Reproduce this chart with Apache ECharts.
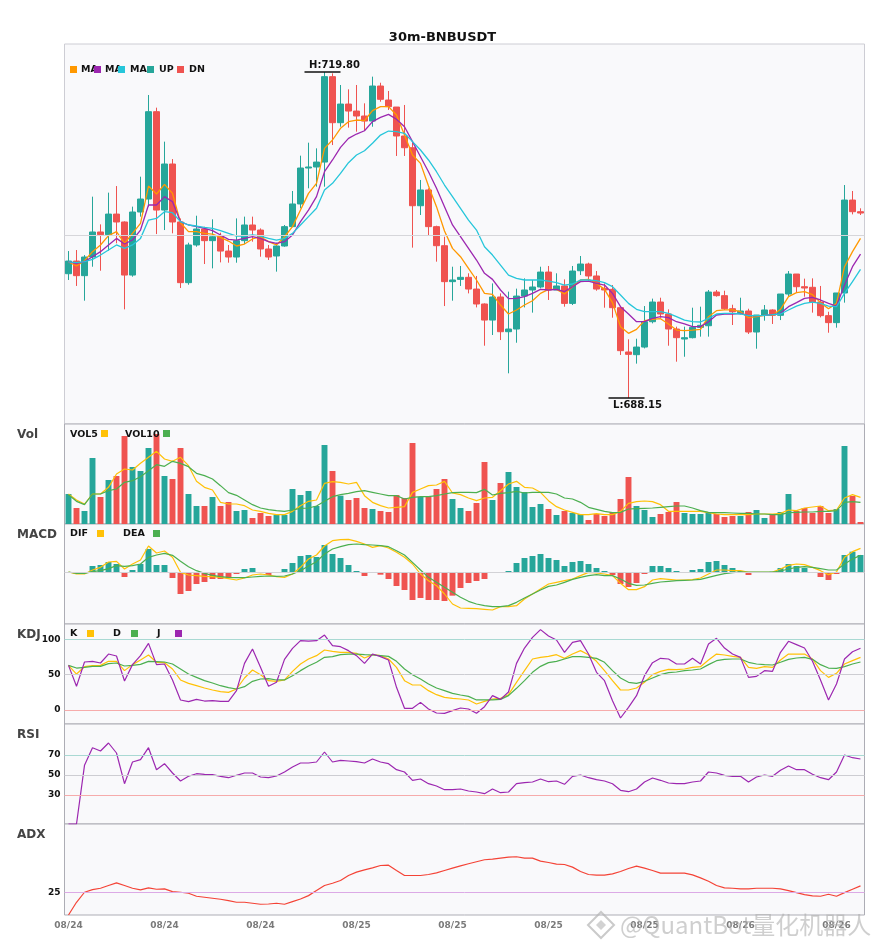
<!DOCTYPE html>
<html>
<head>
<meta charset="utf-8">
<title>30m-BNBUSDT</title>
<script src="https://cdn.jsdelivr.net/npm/echarts@6/dist/echarts.min.js"></script>
<style>
html, body { margin: 0; padding: 0; background: #fff; }
#main { width: 885px; height: 950px; }
</style>
</head>
<body>
<div id="main"></div>
<script>
// 30 minute bars, 08/24 06:00 onwards
var times = [];
(function () {
	var t0 = Date.UTC(2024, 7, 24, 6, 0);
	function p(n) { return (n < 10 ? '0' : '') + n; }
	for (var i = 0; i < 100; i++) {
		var d = new Date(t0 + i * 1800000);
		times.push(p(d.getUTCMonth() + 1) + '/' + p(d.getUTCDate()) + ' ' + p(d.getUTCHours()) + ':' + p(d.getUTCMinutes()));
	}
})();

var opens = [700.22, 701.45, 700.03, 701.84, 704.27, 704.01, 706.01, 705.24, 700.09, 706.21,
	707.47, 715.95, 706.40, 710.87, 705.24, 699.35, 703.01, 704.56, 703.43, 703.81,
	702.42, 701.84, 703.43, 704.95, 704.46, 702.62, 701.94, 702.91, 704.79, 706.99,
	710.48, 710.58, 711.06, 719.35, 714.88, 716.69, 716.01, 715.53, 715.04, 718.44,
	717.08, 716.40, 713.59, 712.45, 706.82, 708.35, 704.79, 702.94, 699.45, 699.67,
	699.87, 698.73, 697.28, 695.72, 697.96, 694.59, 694.85, 698.05, 698.64, 698.93,
	700.38, 698.64, 699.03, 697.34, 700.51, 701.16, 700.00, 698.80, 698.70, 696.92,
	692.62, 692.36, 693.10, 695.56, 697.47, 696.31, 694.85, 693.88, 694.01, 695.01,
	695.17, 698.44, 698.09, 696.82, 696.44, 696.60, 694.56, 696.21, 696.70, 696.18,
	698.25, 700.19, 698.96, 698.90, 697.47, 696.15, 695.47, 698.35, 707.37, 706.24];
var closes = [701.45, 700.03, 701.84, 704.27, 704.01, 706.01, 705.24, 700.09, 706.21, 707.47,
	715.95, 706.40, 710.87, 705.24, 699.35, 703.01, 704.56, 703.43, 703.81, 702.42,
	701.84, 703.43, 704.95, 704.46, 702.62, 701.84, 702.91, 704.79, 706.99, 710.48,
	710.58, 711.06, 719.35, 714.88, 716.69, 716.01, 715.53, 715.04, 718.44, 717.15,
	716.44, 713.59, 712.45, 706.82, 708.35, 704.79, 702.94, 699.45, 699.61, 699.87,
	698.73, 697.28, 695.72, 697.96, 694.59, 694.85, 698.05, 698.64, 698.93, 700.38,
	698.64, 699.03, 697.34, 700.48, 701.16, 700.00, 698.73, 698.64, 696.92, 692.75,
	692.39, 693.10, 695.56, 697.47, 696.31, 694.85, 694.01, 694.01, 695.01, 695.21,
	698.44, 698.09, 696.82, 696.53, 696.60, 694.56, 696.21, 696.70, 696.18, 698.25,
	700.19, 698.96, 698.83, 697.47, 696.15, 695.47, 698.35, 707.37, 706.24, 706.11];
var highs = [702.42, 702.52, 702.03, 707.70, 705.01, 708.09, 708.73, 705.30, 706.73, 709.64,
	717.57, 716.34, 713.04, 711.35, 705.59, 703.23, 705.85, 704.78, 705.50, 704.20,
	703.01, 705.59, 705.76, 705.76, 704.62, 703.01, 703.23, 704.95, 708.25, 711.68,
	712.94, 712.39, 719.80, 719.67, 718.54, 718.12, 718.54, 716.76, 719.35, 718.76,
	717.96, 716.40, 716.60, 712.94, 709.32, 708.51, 704.88, 703.81, 700.90, 700.97,
	700.26, 700.00, 697.34, 699.28, 698.31, 698.48, 698.77, 699.77, 699.61, 700.90,
	700.97, 700.26, 699.67, 700.97, 701.94, 701.29, 700.48, 699.28, 699.12, 696.92,
	693.85, 693.91, 697.08, 697.80, 697.89, 696.76, 695.08, 695.08, 696.92, 697.02,
	698.64, 698.64, 698.57, 697.21, 697.89, 696.82, 696.21, 697.18, 696.76, 698.25,
	700.48, 700.19, 699.74, 699.77, 699.03, 696.53, 698.35, 708.83, 708.25, 706.57];
var lows = [699.61, 699.03, 697.60, 700.90, 700.51, 702.45, 703.17, 696.76, 699.93, 705.76,
	706.73, 704.07, 704.46, 704.14, 698.83, 699.15, 702.84, 701.16, 700.74, 701.32,
	701.29, 701.29, 703.10, 703.33, 701.87, 701.55, 700.42, 702.84, 704.79, 706.57,
	708.51, 708.67, 708.67, 712.71, 714.49, 714.40, 714.01, 714.07, 714.49, 716.92,
	716.11, 711.65, 711.65, 702.75, 705.92, 703.91, 701.39, 697.08, 697.60, 699.03,
	698.31, 696.95, 693.23, 694.27, 693.78, 690.55, 693.52, 696.95, 696.44, 698.80,
	697.67, 698.64, 697.02, 697.18, 700.09, 699.45, 698.57, 696.92, 695.95, 692.33,
	688.15, 691.49, 692.97, 695.40, 695.95, 693.23, 691.68, 692.16, 693.94, 694.11,
	694.11, 697.99, 696.70, 695.24, 696.27, 694.37, 692.94, 695.66, 695.34, 695.72,
	697.99, 698.44, 697.99, 696.44, 695.98, 694.49, 694.98, 697.41, 705.98, 705.92];

var ma5 = [701.36, 700.97, 701.48, 702.36, 703.01, 703.91, 704.30, 703.17, 704.14, 705.11,
	708.73, 707.96, 708.89, 708.02, 705.17, 704.30, 704.30, 704.14, 704.07, 703.75,
	703.39, 702.91, 703.10, 703.59, 703.81, 703.33, 703.01, 703.81, 704.79, 706.40,
	708.02, 708.99, 712.39, 713.20, 714.33, 714.98, 715.14, 715.08, 716.05, 716.44,
	716.44, 715.63, 713.68, 711.74, 710.93, 708.73, 706.73, 704.36, 702.68, 701.87,
	700.74, 699.61, 698.31, 698.22, 697.18, 696.31, 696.70, 697.18, 697.60, 698.31,
	698.70, 698.70, 698.25, 698.96, 699.61, 699.67, 699.28, 698.70, 697.41, 695.08,
	694.43, 694.82, 695.66, 695.79, 695.85, 695.34, 694.75, 694.69, 694.75, 694.82,
	696.05, 696.63, 696.70, 696.70, 696.53, 695.95, 696.05, 696.18, 696.18, 696.76,
	697.99, 698.38, 698.48, 698.18, 697.41, 696.82, 697.34, 700.90, 702.36, 703.65];
var ma10 = [701.36, 701.23, 701.39, 701.87, 702.36, 703.01, 703.65, 703.10, 703.49, 704.46,
	706.89, 706.89, 707.70, 707.21, 705.27, 704.95, 704.79, 704.62, 704.40, 703.98,
	703.56, 703.49, 703.65, 703.81, 703.65, 703.33, 703.17, 703.33, 703.98, 705.27,
	706.40, 707.70, 710.12, 711.26, 712.49, 713.36, 713.78, 714.10, 714.98, 715.40,
	715.69, 715.21, 714.49, 713.04, 711.58, 710.12, 708.51, 706.73, 704.95, 703.81,
	702.68, 701.55, 700.26, 699.67, 698.64, 697.80, 697.83, 697.99, 698.31, 698.70,
	698.64, 698.70, 698.48, 698.96, 699.45, 699.51, 699.28, 699.12, 698.31, 697.02,
	696.31, 695.56, 695.56, 695.89, 696.05, 695.95, 695.56, 695.34, 695.08, 695.08,
	695.56, 696.21, 696.31, 696.31, 696.37, 696.15, 696.15, 696.18, 696.24, 696.37,
	697.02, 697.41, 697.83, 697.93, 697.67, 697.34, 697.08, 699.12, 700.90, 702.13];
var ma20 = [701.36, 701.29, 701.39, 701.61, 702.03, 702.52, 703.01, 702.68, 703.01, 703.65,
	705.43, 705.59, 706.24, 706.14, 705.27, 704.95, 704.85, 704.72, 704.62, 704.40,
	704.14, 703.88, 703.88, 703.98, 703.88, 703.65, 703.49, 703.65, 704.14, 704.95,
	705.76, 706.57, 708.35, 708.99, 709.96, 711.00, 711.74, 712.16, 712.88, 713.68,
	714.07, 714.01, 713.85, 713.04, 712.23, 711.26, 710.12, 708.83, 707.70, 706.57,
	705.43, 704.46, 702.84, 702.03, 701.06, 700.09, 699.77, 699.61, 699.61, 699.61,
	699.51, 699.35, 699.12, 699.22, 699.61, 699.61, 699.54, 699.35, 698.96, 698.15,
	697.34, 696.76, 696.53, 696.53, 696.53, 696.37, 696.05, 695.72, 695.56, 695.53,
	695.89, 696.31, 696.37, 696.37, 696.31, 696.15, 696.15, 696.18, 696.24, 696.31,
	696.70, 697.08, 697.34, 697.47, 697.34, 697.08, 697.02, 698.31, 699.45, 700.64];

var volumes = [900, 480, 390, 1980, 810, 1320, 1440, 2640, 1710, 1590,
	2280, 2700, 1440, 1350, 2280, 900, 540, 540, 810, 540,
	660, 390, 420, 180, 330, 240, 270, 270, 1050, 870,
	990, 540, 2370, 1590, 850, 720, 780, 480, 450, 390,
	360, 870, 780, 2430, 810, 810, 1050, 1350, 750, 480,
	390, 630, 1860, 720, 1230, 1560, 1110, 960, 510, 600,
	450, 270, 390, 330, 300, 120, 300, 240, 360, 750,
	1410, 540, 420, 210, 300, 360, 660, 330, 300, 300,
	360, 300, 210, 240, 240, 360, 420, 180, 270, 360,
	900, 390, 480, 330, 540, 330, 450, 2340, 840, 60];
var vol5 = [900, 720, 600, 900, 900, 1100, 1500, 1650, 1620, 1820,
	2000, 2180, 1950, 1880, 2000, 1750, 1280, 1100, 1020, 650,
	600, 600, 550, 420, 380, 320, 280, 280, 380, 550,
	680, 720, 1220, 1270, 1250, 1200, 1250, 850, 650, 550,
	480, 500, 520, 950, 1050, 1150, 1170, 1280, 930, 880,
	780, 700, 780, 800, 1000, 1200, 1280, 1100, 1080, 950,
	700, 520, 420, 350, 280, 280, 310, 280, 280, 380,
	620, 670, 690, 670, 580, 380, 380, 380, 380, 380,
	340, 300, 280, 280, 280, 280, 300, 300, 300, 320,
	420, 400, 480, 510, 540, 400, 420, 780, 880, 800];
var vol10 = [880, 680, 580, 900, 900, 1000, 1050, 1250, 1300, 1420,
	1600, 1780, 1730, 1880, 1820, 1720, 1520, 1450, 1350, 1150,
	940, 860, 720, 580, 480, 430, 400, 380, 420, 470,
	480, 540, 680, 820, 880, 920, 970, 1000, 950, 900,
	850, 850, 750, 800, 820, 820, 850, 900, 940, 950,
	950, 940, 1040, 870, 920, 940, 980, 930, 950, 950,
	950, 900, 780, 750, 650, 500, 440, 380, 340, 350,
	450, 460, 470, 480, 500, 520, 540, 540, 480, 400,
	350, 340, 340, 330, 320, 320, 300, 300, 280, 280,
	340, 350, 360, 360, 380, 380, 400, 650, 670, 650];

var dif = [0, -0.06, -0.06, 0.06, 0.14, 0.30, 0.32, 0.09, 0.24, 0.36,
	0.78, 0.57, 0.63, 0.44, -0.01, -0.09, -0.11, -0.13, -0.14, -0.16,
	-0.20, -0.24, -0.18, -0.09, -0.06, -0.09, -0.14, -0.16, -0.06, 0.14,
	0.39, 0.51, 0.78, 0.94, 0.97, 0.98, 0.92, 0.84, 0.74, 0.79,
	0.72, 0.59, 0.44, 0.24, -0.06, -0.26, -0.41, -0.66, -0.96, -1.08,
	-1.09, -1.10, -1.12, -1.14, -1.04, -1.04, -1.01, -0.81, -0.66, -0.51,
	-0.36, -0.31, -0.26, -0.21, -0.11, -0.01, -0.03, -0.06, -0.11, -0.34,
	-0.53, -0.53, -0.44, -0.24, -0.20, -0.22, -0.24, -0.24, -0.23, -0.18,
	-0.06, 0.06, 0.06, 0.04, 0.04, -0.01, -0.01, -0.01, 0, 0.09,
	0.20, 0.24, 0.22, 0.14, 0.04, -0.08, 0, 0.44, 0.61, 0.71];
var dea = [0, -0.04, -0.04, 0.01, 0.04, 0.10, 0.19, 0.17, 0.19, 0.24,
	0.44, 0.51, 0.56, 0.50, 0.32, 0.16, 0.04, -0.04, -0.10, -0.14,
	-0.16, -0.17, -0.17, -0.15, -0.13, -0.12, -0.13, -0.12, -0.06, 0.04,
	0.18, 0.31, 0.54, 0.69, 0.76, 0.82, 0.84, 0.82, 0.81, 0.79,
	0.76, 0.64, 0.51, 0.29, 0.06, -0.16, -0.31, -0.46, -0.61, -0.76,
	-0.88, -0.96, -1.01, -1.04, -1.04, -1.01, -0.91, -0.78, -0.66, -0.54,
	-0.43, -0.39, -0.31, -0.22, -0.16, -0.11, -0.08, -0.11, -0.11, -0.21,
	-0.34, -0.40, -0.39, -0.34, -0.30, -0.28, -0.26, -0.25, -0.24, -0.22,
	-0.16, -0.10, -0.05, -0.02, 0, 0, 0, 0, 0, 0.03,
	0.09, 0.14, 0.16, 0.14, 0.10, 0.06, 0.06, 0.24, 0.39, 0.50];
var macdHist = [0, -0.06, 0, 0.18, 0.21, 0.30, 0.24, -0.15, 0.06, 0.24,
	0.69, 0.21, 0.21, -0.18, -0.66, -0.57, -0.36, -0.30, -0.21, -0.21,
	-0.18, -0.06, 0.09, 0.12, 0, -0.09, -0.03, 0.09, 0.27, 0.48,
	0.51, 0.45, 0.81, 0.54, 0.42, 0.21, 0.03, -0.12, -0.03, -0.08,
	-0.21, -0.42, -0.54, -0.84, -0.78, -0.84, -0.84, -0.87, -0.71, -0.48,
	-0.33, -0.27, -0.21, 0, -0.03, 0.03, 0.27, 0.42, 0.48, 0.54,
	0.42, 0.36, 0.18, 0.30, 0.33, 0.24, 0.12, 0.03, -0.09, -0.36,
	-0.45, -0.33, -0.06, 0.18, 0.18, 0.12, 0.03, 0, 0.06, 0.09,
	0.30, 0.33, 0.21, 0.12, 0.03, -0.09, -0.01, 0, 0.01, 0.12,
	0.24, 0.18, 0.12, -0.03, -0.15, -0.24, -0.06, 0.51, 0.61, 0.51];

var kLine = [63.2, 50.9, 61.3, 62.7, 63.2, 68.9, 68.9, 55.7, 64.2, 70.8,
	77.8, 67.5, 67.0, 58.0, 42.5, 37.7, 34.4, 31.1, 28.3, 25.9,
	25.0, 29.7, 45.3, 56.6, 50.0, 41.5, 40.6, 42.5, 54.7, 65.1,
	72.2, 76.9, 84.9, 83.0, 81.6, 81.6, 80.2, 73.6, 78.3, 76.9,
	72.2, 60.4, 41.5, 35.4, 35.4, 27.4, 21.7, 17.9, 16.5, 15.6,
	14.2, 8.5, 12.3, 15.6, 16.5, 21.7, 39.2, 55.7, 72.2, 74.5,
	75.9, 78.3, 73.1, 79.2, 84.0, 78.3, 68.9, 55.7, 41.5, 28.3,
	28.3, 31.1, 39.2, 50.0, 54.7, 57.5, 57.1, 58.0, 60.4, 61.3,
	70.8, 79.2, 77.8, 75.9, 74.5, 60.4, 59.0, 61.3, 60.4, 70.8,
	79.2, 79.2, 79.2, 72.2, 55.7, 46.2, 51.9, 65.1, 69.8, 74.5];
var dLine = [63.2, 59.4, 60.4, 61.8, 61.8, 65.6, 66.5, 62.3, 63.2, 64.6,
	68.9, 68.4, 67.9, 65.1, 58.0, 50.9, 46.2, 41.5, 38.2, 34.4,
	31.6, 29.7, 33.0, 40.6, 43.9, 44.3, 42.5, 42.5, 48.6, 55.7,
	62.3, 67.5, 74.5, 75.5, 78.3, 79.2, 79.2, 78.3, 77.8, 76.9,
	75.9, 68.9, 58.0, 50.0, 43.9, 36.8, 31.1, 27.4, 23.6, 21.2,
	19.3, 14.2, 14.2, 14.2, 15.1, 20.3, 30.7, 41.5, 53.3, 61.8,
	67.0, 68.9, 72.2, 75.5, 75.5, 74.5, 73.1, 67.5, 55.7, 45.3,
	39.2, 37.7, 40.6, 45.3, 50.0, 52.8, 53.8, 55.7, 56.6, 58.0,
	64.2, 69.8, 71.7, 72.2, 72.2, 67.5, 65.1, 64.2, 63.7, 67.5,
	71.7, 73.6, 74.5, 71.7, 64.2, 59.4, 59.0, 61.3, 65.1, 67.9];
var jLine = [63.2, 33.5, 67.9, 68.9, 66.5, 79.2, 76.4, 41.0, 64.2, 76.9,
	94.3, 64.2, 65.1, 42.5, 14.2, 11.8, 15.1, 12.7, 13.2, 12.3,
	12.3, 27.4, 66.0, 86.3, 60.4, 33.5, 39.2, 71.7, 87.3, 98.1,
	97.6, 98.1, 106.1, 91.0, 89.6, 84.0, 76.9, 66.0, 79.2, 75.5,
	70.8, 32.1, 2.4, 2.4, 10.8, 1.4, -4.2, -4.7, -0.9, 2.8,
	1.4, -4.7, 4.7, 20.3, 15.1, 25.5, 66.0, 87.7, 102.8, 113.7,
	104.7, 99.1, 81.6, 95.8, 98.1, 79.2, 53.3, 41.5, 13.2, -11.3,
	3.8, 20.3, 48.6, 67.0, 73.1, 72.2, 65.1, 65.1, 73.1, 65.1,
	93.4, 101.4, 87.7, 79.2, 74.5, 46.2, 47.6, 55.7, 54.7, 81.6,
	97.2, 92.5, 87.7, 68.9, 42.5, 14.2, 36.8, 72.2, 82.5, 87.3];

var rsi = [1, 1, 59.7, 77.3, 74.0, 82.0, 72.0, 41.3, 63.0, 65.3,
	77.3, 55.3, 61.3, 52.0, 44.0, 48.7, 51.3, 50.7, 50.3, 48.7,
	47.3, 49.7, 52.0, 52.0, 48.0, 47.3, 49.0, 53.0, 58.0, 62.0,
	62.0, 63.0, 73.0, 63.0, 64.7, 64.0, 63.3, 62.0, 66.0, 63.0,
	61.3, 55.3, 53.0, 44.7, 46.0, 41.3, 39.0, 35.3, 35.3, 36.0,
	34.0, 33.0, 31.3, 36.0, 32.3, 33.0, 41.3, 42.3, 43.0, 46.0,
	43.3, 44.0, 40.7, 48.7, 50.0, 47.3, 45.3, 44.0, 41.3, 34.7,
	33.3, 36.0, 43.0, 47.0, 44.7, 42.0, 41.3, 41.3, 43.0, 44.0,
	53.0, 52.0, 49.7, 48.7, 48.7, 43.0, 48.0, 50.0, 48.7, 54.7,
	59.0, 55.3, 55.3, 50.7, 47.3, 45.3, 53.0, 70.0, 67.3, 66.0];

var adx = [0, 14.0, 25.0, 27.9, 29.4, 32.4, 35.3, 32.4, 29.4, 27.6,
	29.8, 28.3, 28.7, 25.7, 25.0, 23.9, 20.6, 19.5, 18.4, 17.3,
	15.8, 14.0, 14.0, 12.9, 11.8, 12.1, 12.9, 11.8, 14.7, 17.6,
	21.3, 26.8, 32.4, 34.9, 37.9, 43.4, 47.1, 49.6, 51.8, 54.4,
	54.8, 48.9, 43.4, 43.4, 43.4, 44.5, 46.3, 48.9, 51.5, 54.0,
	56.3, 58.5, 60.7, 61.4, 62.5, 63.6, 64.0, 62.5, 62.5, 59.2,
	57.7, 55.9, 55.5, 52.6, 47.8, 44.5, 43.8, 43.8, 45.2, 47.8,
	51.1, 53.7, 51.5, 48.9, 46.0, 46.0, 46.0, 46.0, 44.1, 40.8,
	37.1, 32.4, 29.8, 29.4, 28.7, 28.7, 29.4, 29.4, 29.4, 28.7,
	26.8, 24.6, 22.4, 21.0, 20.6, 22.8, 20.6, 24.6, 28.3, 32.0];

// tick labels / guide levels
var kdjTicks = [0, 50, 100];
var rsiTicks = [30, 50, 70];
var adxTicks = [25];

var UP = '#26a69a', DN = '#ef5350';
var FONT = '"DejaVu Sans", sans-serif';

var hi = Math.max.apply(null, highs), hiIdx = highs.indexOf(hi);
var lo = Math.min.apply(null, lows), loIdx = lows.indexOf(lo);

var chart = echarts.init(document.getElementById('main'), null, { renderer: 'canvas' });

var panels = [
	{ top: 44, height: 380, min: 685.63, max: 722.52 },
	{ top: 424, height: 100, min: 0, max: 3000 },
	{ top: 524, height: 100, min: -1.56, max: 1.44 },
	{ top: 624, height: 100, min: -19.8, max: 121.7, ticks: kdjTicks },
	{ top: 724, height: 100, min: 1, max: 101, ticks: rsiTicks },
	{ top: 824, height: 91, min: 0, max: 100, ticks: adxTicks }
];

var grids = [], xAxes = [], yAxes = [];
panels.forEach(function (p, i) {
	grids.push({
		left: 64.5, width: 800, top: p.top, height: p.height,
		show: true, backgroundColor: '#f9f9fb',
		borderColor: i === 0 ? '#cdcdd4' : '#adadb5', borderWidth: 1
	});
	xAxes.push({
		type: 'category', gridIndex: i, data: times, boundaryGap: true,
		axisLine: { show: false }, axisTick: { show: false }, splitLine: { show: false },
		axisLabel: i === 5 ? {
			show: true, interval: 11, margin: 6, fontSize: 9, fontWeight: 'bold',
			color: '#7a7a7a', fontFamily: FONT,
			formatter: function (v) { return v.slice(0, 5); }
		} : { show: false }
	});
	yAxes.push({
		type: 'value', gridIndex: i, min: p.min, max: p.max, scale: true,
		axisLine: { show: false }, axisTick: { show: false }, splitLine: { show: false },
		axisLabel: p.ticks ? {
			show: true, customValues: p.ticks, margin: 4, fontSize: 9,
			fontWeight: 'bold', color: '#111', fontFamily: FONT
		} : { show: false }
	});
});

function line(name, data, color, idx, width) {
	return {
		name: name, type: 'line', data: data, xAxisIndex: idx, yAxisIndex: idx,
		symbol: 'none', showSymbol: false, silent: true,
		lineStyle: { color: color, width: width || 1.2 }, z: 3
	};
}
function guides(levels) {
	return {
		silent: true, symbol: ['none', 'none'], label: { show: false },
		data: levels.map(function (l) {
			return { yAxis: l[0], lineStyle: { color: l[1], width: 1, type: 'solid' } };
		})
	};
}

var candle = {
	name: 'K', type: 'candlestick', xAxisIndex: 0, yAxisIndex: 0,
	data: opens.map(function (o, i) { return [o, closes[i], lows[i], highs[i]]; }),
	barWidth: '74%',
	itemStyle: { color: UP, color0: DN, borderColor: UP, borderColor0: DN, borderWidth: 1 },
	markLine: guides([[(hi + lo) / 2, '#d6d6da']]),
	markPoint: {
		silent: true, symbol: 'rect', symbolSize: [36, 1.5], symbolOffset: [-2, 0],
		itemStyle: { color: '#111' },
		label: { color: '#111', fontWeight: 'bold', fontSize: 10, fontFamily: FONT },
		data: [
			{ coord: [times[hiIdx], hi], label: { position: 'top', distance: 1, offset: [12, 0], formatter: 'H:' + hi.toFixed(2) } },
			{ coord: [times[loIdx], lo], label: { position: 'bottom', distance: 2, offset: [11, 0], formatter: 'L:' + lo.toFixed(2) } }
		]
	}
};

var volBars = {
	name: 'Vol', type: 'bar', xAxisIndex: 1, yAxisIndex: 1, barWidth: '74%',
	data: volumes.map(function (v, i) {
		return { value: v, itemStyle: { color: closes[i] >= opens[i] ? UP : DN } };
	})
};
var macdBars = {
	name: 'MACD', type: 'bar', xAxisIndex: 2, yAxisIndex: 2, barWidth: '74%',
	data: macdHist.map(function (v) {
		return { value: v, itemStyle: { color: v >= 0 ? UP : DN } };
	})
};

var difSeries = line('DIF', dif, '#ffc107', 2);
difSeries.markLine = guides([[0, '#d2d2d6']]);
var kSeries = line('K', kLine, '#ffc107', 3);
kSeries.markLine = guides([[100, '#a9d9d3'], [50, '#cdcdd2'], [0, '#f6abab']]);
var rsiSeries = line('RSI', rsi, '#9c27b0', 4);
rsiSeries.markLine = guides([[70, '#a9d9d3'], [50, '#cdcdd2'], [30, '#f6abab']]);
var adxSeries = line('ADX', adx, '#f44336', 5);
adxSeries.markLine = guides([[25, '#dcaae6']]);

// hand-drawn legends and panel captions
var graphics = [];
function sq(x, y, color) {
	graphics.push({ type: 'rect', z: 20, shape: { x: x, y: y, width: 7, height: 7 }, style: { fill: color } });
}
function txt(x, y, s, font, color) {
	graphics.push({ type: 'text', z: 19, style: { x: x, y: y, text: s, font: font, fill: color || '#111', verticalAlign: 'middle' } });
}
var lf = 'bold 9.5px ' + FONT;
txt(81, 69.5, 'MA', lf); txt(105, 69.5, 'MA', lf); txt(130, 69.5, 'MA', lf);
txt(159, 69.5, 'UP', lf); txt(189, 69.5, 'DN', lf);
sq(70, 66, '#ff9800'); sq(94, 66, '#9c27b0'); sq(118, 66, '#26c6da');
sq(147, 66, UP); sq(177, 66, DN);

txt(70, 434.5, 'VOL5', lf); sq(101, 430, '#ffc107');
txt(125, 434.5, 'VOL10', lf); sq(163, 430, '#4caf50');
txt(70, 534, 'DIF', lf); sq(97, 530, '#ffc107');
txt(123, 534, 'DEA', lf); sq(153, 530, '#4caf50');
txt(70, 634, 'K', lf); sq(87, 630, '#ffc107');
txt(113, 634, 'D', lf); sq(131, 630, '#4caf50');
txt(157, 634, 'J', lf); sq(175, 630, '#9c27b0');

var cf = 'bold 12px ' + FONT;
[['Vol', 435], ['MACD', 535], ['KDJ', 635], ['RSI', 735], ['ADX', 835]].forEach(function (c) {
	txt(17, c[1], c[0], cf, '#444');
});

// watermark
graphics.push({
	type: 'polygon', z: 30, silent: true,
	shape: { points: [[601, 912], [614, 925], [601, 938], [588, 925]] },
	style: { fill: 'none', stroke: 'rgba(180,180,180,0.7)', lineWidth: 2 }
});
graphics.push({
	type: 'polygon', z: 30, silent: true,
	shape: { points: [[601, 920], [606, 925], [601, 930], [596, 925]] },
	style: { fill: 'rgba(180,180,180,0.6)' }
});
graphics.push({
	type: 'text', z: 30, silent: true,
	style: {
		x: 620, y: 925, text: '@QuantBot量化机器人', verticalAlign: 'middle',
		font: '24px "Noto Sans CJK SC", "Noto Sans", sans-serif',
		fill: 'rgba(175,175,175,0.6)'
	}
});

chart.setOption({
	animation: false,
	backgroundColor: '#fff',
	title: {
		text: '30m-BNBUSDT', left: 'center', top: 26,
		textStyle: { fontSize: 13, fontWeight: 'bold', color: '#111', fontFamily: FONT }
	},
	grid: grids,
	xAxis: xAxes,
	yAxis: yAxes,
	graphic: graphics,
	series: [
		candle,
		line('MA5', ma5, '#ff9800', 0, 1.3),
		line('MA10', ma10, '#9c27b0', 0, 1.3),
		line('MA20', ma20, '#26c6da', 0, 1.3),
		volBars,
		line('VOL5', vol5, '#ffc107', 1),
		line('VOL10', vol10, '#4caf50', 1),
		macdBars,
		difSeries,
		line('DEA', dea, '#4caf50', 2),
		kSeries,
		line('D', dLine, '#4caf50', 3),
		line('J', jLine, '#9c27b0', 3),
		rsiSeries,
		adxSeries
	]
});

window.addEventListener('resize', function () {
	chart.resize();
});
</script>
</body>
</html>
